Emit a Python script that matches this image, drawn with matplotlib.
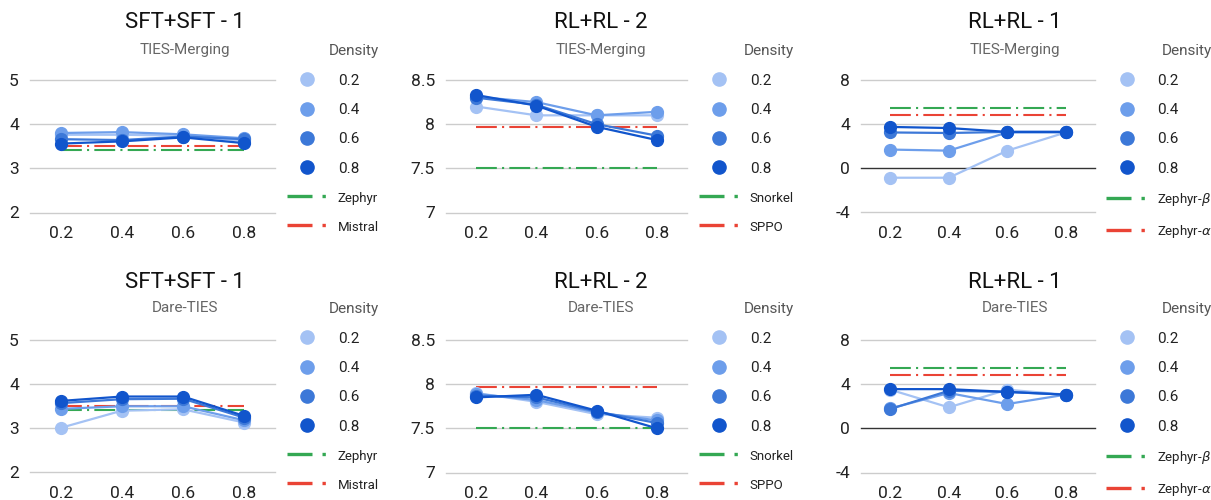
import matplotlib
matplotlib.use("Agg")
import matplotlib.pyplot as plt
from matplotlib.lines import Line2D

plt.rcParams['font.family'] = ['Roboto', 'DejaVu Sans']

# ---------------- data ----------------
x_labels = ['0.2', '0.4', '0.6', '0.8']
densities = ['0.2', '0.4', '0.6', '0.8']

# rows: density 0.2, 0.4, 0.6, 0.8 ; columns: x categories
sft_ties = [[3.76, 3.76, 3.74, 3.62],
            [3.80, 3.82, 3.77, 3.68],
            [3.66, 3.64, 3.72, 3.66],
            [3.56, 3.61, 3.70, 3.57]]
sft_dare = [[3.01, 3.40, 3.43, 3.13],
            [3.44, 3.50, 3.50, 3.18],
            [3.57, 3.66, 3.67, 3.24],
            [3.62, 3.72, 3.72, 3.28]]
rl2_ties = [[8.20, 8.10, 8.10, 8.10],
            [8.31, 8.25, 8.10, 8.14],
            [8.30, 8.22, 8.00, 7.87],
            [8.33, 8.21, 7.97, 7.82]]
rl2_dare = [[7.90, 7.80, 7.66, 7.62],
            [7.89, 7.82, 7.68, 7.59],
            [7.87, 7.85, 7.69, 7.56],
            [7.85, 7.88, 7.70, 7.50]]
rl1_ties = [[-0.85, -0.85, 1.60, 3.25],
            [1.70, 1.60, 3.25, 3.25],
            [3.25, 3.20, 3.30, 3.30],
            [3.75, 3.65, 3.30, 3.30]]
rl1_dare = [[3.50, 1.90, 3.50, 3.05],
            [1.80, 3.20, 2.20, 3.05],
            [1.75, 3.40, 3.30, 3.05],
            [3.55, 3.55, 3.30, 3.05]]

sft_baseline_names = ['Zephyr', 'Mistral']
sft_baselines = [3.42, 3.51]
rl2_baseline_names = ['Snorkel', 'SPPO']
rl2_baselines = [7.50, 7.965]
rl1_baseline_names = [r'Zephyr-$\beta$', r'Zephyr-$\alpha$']
rl1_baselines = [5.5, 4.8]

titles = ['SFT+SFT - 1', 'RL+RL - 2', 'RL+RL - 1']
methods = ['TIES-Merging', 'Dare-TIES']

sft_ticks = [2, 3, 4, 5]
rl2_ticks = [7, 7.5, 8, 8.5]
rl1_ticks = [-4, 0, 4, 8]

# ---------------- style ----------------
W, H = 1211, 500
density_colors = ['#a4c2f4', '#6d9eeb', '#3c78d8', '#1155cc']
baseline_colors = ['#34a853', '#ea4335']
dash = (0, (10, 2.5, 1, 2.5))
legend_dash = (0, (7.5, 3.0, 1, 3.0))

fig = plt.figure(figsize=(W / 100, H / 100), dpi=100)

col_px = [(30, 275), (446, 687), (861, 1095)]
row_px = [(80, 212.5), (340, 472.5)]
title_cx = [185, 601, 1015]
title_y = [23, 283]
sub_y = [50, 308]
legend_right = [379, 794, 1212]

panels = {
    (0, 0): (sft_ties, sft_baselines, sft_baseline_names, sft_ticks),
    (0, 1): (rl2_ties, rl2_baselines, rl2_baseline_names, rl2_ticks),
    (0, 2): (rl1_ties, rl1_baselines, rl1_baseline_names, rl1_ticks),
    (1, 0): (sft_dare, sft_baselines, sft_baseline_names, sft_ticks),
    (1, 1): (rl2_dare, rl2_baselines, rl2_baseline_names, rl2_ticks),
    (1, 2): (rl1_dare, rl1_baselines, rl1_baseline_names, rl1_ticks),
}


def fx(px):
    return px / W


def fy(py):
    return 1 - py / H


for (r, c), (series, bvals, bnames, ticks) in panels.items():
    l, rr = col_px[c]
    t, b = row_px[r]
    ax = fig.add_axes([fx(l), fy(b), fx(rr - l), (b - t) / H])
    xs = list(range(len(x_labels)))
    # baselines
    for val, name, col in zip(bvals, bnames, baseline_colors):
        ax.plot(xs, [val] * len(xs), color=col, lw=1.5, linestyle=dash,
                zorder=2)
    # density series
    for vals, col in zip(series, density_colors):
        ax.plot(xs, vals, color=col, lw=1.6, marker='o', markersize=8.5,
                zorder=3)
    ax.set_xlim(-0.5, 3.5)
    ax.set_ylim(ticks[0], ticks[-1])
    ax.set_yticks(ticks)
    ax.set_yticklabels([('%g' % v) for v in ticks])
    ax.set_xticks(xs)
    ax.set_xticklabels(x_labels)
    ax.tick_params(length=0, labelsize=12.5, labelcolor='#222222')
    ax.tick_params(axis='x', pad=9.5)
    ax.tick_params(axis='y', pad=8)
    for s in ax.spines.values():
        s.set_visible(False)
    for v in ticks:
        if v == 0:
            ax.axhline(0, color='#333333', lw=1.0, zorder=1)
        else:
            ax.axhline(v, color='#cccccc', lw=1.0, zorder=1)
    for ln in ax.lines:
        ln.set_clip_on(False)

    # titles
    fig.text(fx(title_cx[c]), fy(title_y[r]), titles[c], ha='center',
             va='center', fontsize=16, color='#111111')
    fig.text(fx(title_cx[c]), fy(sub_y[r]), methods[r], ha='center',
             va='center', fontsize=11, color='#666666')

    # legend
    handles = [Line2D([], [], color=col, marker='o', linestyle='none',
                      markersize=9.5) for col in density_colors]
    handles += [Line2D([], [], color=col, lw=2.4, linestyle=legend_dash)
                for col in baseline_colors]
    labels = densities + bnames
    leg = ax.legend(handles, labels, title='Density', frameon=False,
                    loc='upper right',
                    bbox_to_anchor=(fx(legend_right[c]), fy(sub_y[r] - 5.5)),
                    bbox_transform=fig.transFigure, fontsize=11,
                    title_fontsize=11, handlelength=2.7, handletextpad=0.65,
                    labelspacing=1.0, borderpad=0, borderaxespad=0,
                    alignment='right')
    leg.get_title().set_color('#555555')
    for i, txt in enumerate(leg.get_texts()):
        txt.set_color('#222222')
        if i >= 4:
            txt.set_fontsize(9.5)

fig.savefig('out.png', dpi=100)
